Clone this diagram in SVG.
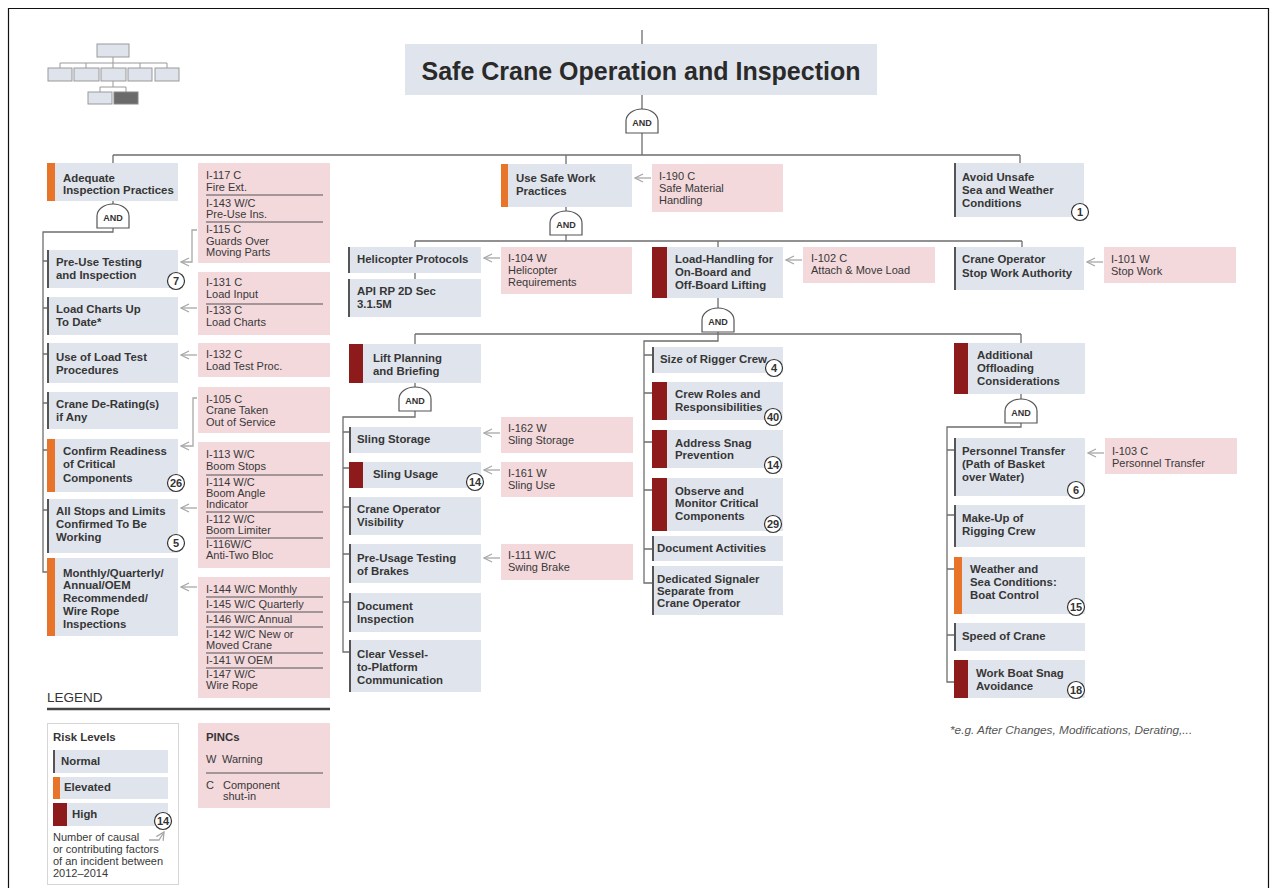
<svg xmlns="http://www.w3.org/2000/svg" width="1277" height="888" viewBox="0 0 1277 888">
<style>
  .n{fill:#e0e5ed}
  .p{fill:#f3d8dc}
  .or{fill:#e8742a}
  .hi{fill:#8e1b1b}
  .lb{stroke:#555;stroke-width:2}
  .t{font-family:"Liberation Sans",Arial,sans-serif;font-size:11.4px;font-weight:bold;fill:#363636}
  .pt{font-family:"Liberation Sans",Arial,sans-serif;font-size:11px;fill:#383838}
  .sep{stroke:#555;stroke-width:1}
  .c{fill:none;stroke:#6e6e6e;stroke-width:1.3}
  .a{fill:none;stroke:#a8a8a8;stroke-width:1.3}
  .bd circle{fill:#fff;stroke:#333;stroke-width:1.2}
  .bd text{font-family:"Liberation Sans",Arial,sans-serif;font-size:11px;font-weight:bold;fill:#333;text-anchor:middle}
  .ic{fill:#dfe4ec;stroke:#999;stroke-width:1}
</style>
<defs>
  <marker id="arr" viewBox="0 0 10 10" refX="9" refY="5" markerWidth="10" markerHeight="10" markerUnits="userSpaceOnUse" orient="auto">
    <path d="M1,1 L9,5 L1,9" fill="none" stroke="#a8a8a8" stroke-width="1.3"/>
  </marker>
  <g id="gate">
    <path d="M-16,12 V0 A16,12 0 0 1 16,0 V12 Z" fill="#fff" stroke="#555" stroke-width="1.2"/>
    <text y="5" text-anchor="middle" font-family="'Liberation Sans',Arial,sans-serif" font-size="9" font-weight="bold" fill="#333">AND</text>
  </g>
</defs>

<rect width="1277" height="888" fill="#fff"/>
<path d="M8.5,888 V8.5 H1268.5 V888" fill="none" stroke="#111" stroke-width="1.2"/>

<!-- overview icon -->
<g id="overview-icon">
  <path d="M113,57 V63 M60,63 H167 M60,63 V68 M86,63 V68 M113,63 V68 M140,63 V68 M167,63 V68 M113,81 V87 M100,87 H126 M100,87 V92 M126,87 V92" fill="none" stroke="#999" stroke-width="1"/>
  <rect class="ic" x="97" y="44" width="32" height="13"/>
  <rect class="ic" x="48" y="68" width="24" height="13"/>
  <rect class="ic" x="74" y="68" width="25" height="13"/>
  <rect class="ic" x="101" y="68" width="25" height="13"/>
  <rect class="ic" x="128" y="68" width="24" height="13"/>
  <rect class="ic" x="155" y="68" width="24" height="13"/>
  <rect class="ic" x="88" y="92" width="24" height="12"/>
  <rect x="114" y="92" width="24" height="12" fill="#6b6b6b" stroke="#888" stroke-width="1"/>
</g>

<!-- connectors -->
<g id="connectors">
  <path class="c" d="M642,30 V44 M642,95 V155 M113,155 H1020 M113,155 V163 M566,155 V164 M1020,155 V163"/>
  <!-- left branch -->
  <path class="c" d="M113,201 V232 H43 V572 H47 M43,261 H47 M43,308 H47 M43,354 H47 M43,403 H47 M43,450 H47 M43,510 H47"/>
  <!-- safe work practices branch -->
  <path class="c" d="M566,207 V241 M415,241 H1022 M415,241 V247 M718,241 V247 M1022,241 V247 M415,273 V279"/>
  <path class="c" d="M718,298 V341 H644 V583 H652 M644,355 H652 M644,393 H652 M644,442 H652 M644,490 H652 M644,549 H652"/>
  <path class="c" d="M415,334 H1021 M415,334 V344 M1021,334 V343"/>
  <path class="c" d="M415,383 V417 H343 V652 H349 M343,432 H349 M343,468 H349 M343,507 H349 M343,554 H349 M343,602 H349"/>
  <path class="c" d="M1021,394 V427 H947 V682 H954 M947,450 H954 M947,515 H954 M947,569 H954 M947,635 H954"/>
  <!-- PINC arrows -->
  <path class="a" marker-end="url(#arr)" d="M197,230 H192 V262 H181"/>
  <path class="a" marker-end="url(#arr)" d="M197,308 H181"/>
  <path class="a" marker-end="url(#arr)" d="M197,355 H181"/>
  <path class="a" marker-end="url(#arr)" d="M197,398 H193 V446 H181"/>
  <path class="a" marker-end="url(#arr)" d="M197,508 H181"/>
  <path class="a" marker-end="url(#arr)" d="M197,587 H181"/>
  <path class="a" marker-end="url(#arr)" d="M651,178 H635"/>
  <path class="a" marker-end="url(#arr)" d="M500,258 H484"/>
  <path class="a" marker-end="url(#arr)" d="M802,260 H786"/>
  <path class="a" marker-end="url(#arr)" d="M1103,262 H1087"/>
  <path class="a" marker-end="url(#arr)" d="M500,433 H484"/>
  <path class="a" marker-end="url(#arr)" d="M500,470 H484"/>
  <path class="a" marker-end="url(#arr)" d="M500,558 H484"/>
  <path class="a" marker-end="url(#arr)" d="M1104,453 H1088"/>
</g>

<!-- AND gates -->
<g id="gates">
  <use href="#gate" x="642" y="121"/>
  <use href="#gate" x="113" y="216"/>
  <use href="#gate" x="566" y="223"/>
  <use href="#gate" x="718" y="320"/>
  <use href="#gate" x="415" y="399"/>
  <use href="#gate" x="1021" y="411"/>
</g>

<!-- root -->
<g id="root">
  <rect class="n" x="405" y="44" width="472" height="51"/>
  <text x="641" y="80" text-anchor="middle" font-family="'Liberation Sans',Arial,sans-serif" font-size="25" font-weight="bold" fill="#2a2a2a">Safe Crane Operation and Inspection</text>
</g>

<!-- left column -->
<g id="adequate-inspection">
  <rect class="n" x="47" y="163" width="131" height="38"/><rect class="or" x="47" y="163" width="8" height="38"/>
  <text class="t"><tspan x="63" y="182">Adequate</tspan><tspan x="63" y="194">Inspection Practices</tspan></text>
</g>
<g id="pre-use-testing">
  <rect class="n" x="47" y="250" width="131" height="38"/><line class="lb" x1="48" y1="250" x2="48" y2="288"/>
  <text class="t"><tspan x="56" y="266">Pre-Use Testing</tspan><tspan x="56" y="279">and Inspection</tspan></text>
  <g class="bd"><circle cx="176" cy="281" r="8.5"/><text x="176" y="285">7</text></g>
</g>
<g id="load-charts">
  <rect class="n" x="47" y="297" width="131" height="38"/><line class="lb" x1="48" y1="297" x2="48" y2="335"/>
  <text class="t"><tspan x="56" y="313">Load Charts Up</tspan><tspan x="56" y="326">To Date*</tspan></text>
</g>
<g id="load-test">
  <rect class="n" x="47" y="343" width="131" height="40"/><line class="lb" x1="48" y1="343" x2="48" y2="383"/>
  <text class="t"><tspan x="56" y="361">Use of Load Test</tspan><tspan x="56" y="374">Procedures</tspan></text>
</g>
<g id="de-rating">
  <rect class="n" x="47" y="392" width="131" height="37"/><line class="lb" x1="48" y1="392" x2="48" y2="429"/>
  <text class="t"><tspan x="56" y="408">Crane De-Rating(s)</tspan><tspan x="56" y="421">if Any</tspan></text>
</g>
<g id="confirm-readiness">
  <rect class="n" x="47" y="439" width="131" height="53"/><rect class="or" x="47" y="439" width="8" height="53"/>
  <text class="t"><tspan x="63" y="455">Confirm Readiness</tspan><tspan x="63" y="468">of Critical</tspan><tspan x="63" y="482">Components</tspan></text>
  <g class="bd"><circle cx="176" cy="483" r="8.5"/><text x="176" y="487">26</text></g>
</g>
<g id="stops-limits">
  <rect class="n" x="47" y="499" width="131" height="54"/><line class="lb" x1="48" y1="499" x2="48" y2="553"/>
  <text class="t"><tspan x="56" y="515">All Stops and Limits</tspan><tspan x="56" y="528">Confirmed To Be</tspan><tspan x="56" y="541">Working</tspan></text>
  <g class="bd"><circle cx="176" cy="543" r="8.5"/><text x="176" y="547">5</text></g>
</g>
<g id="periodic-inspections">
  <rect class="n" x="47" y="558" width="131" height="78"/><rect class="or" x="47" y="558" width="8" height="78"/>
  <text class="t"><tspan x="63" y="577">Monthly/Quarterly/</tspan><tspan x="63" y="589">Annual/OEM</tspan><tspan x="63" y="602">Recommended/</tspan><tspan x="63" y="615">Wire Rope</tspan><tspan x="63" y="628">Inspections</tspan></text>
</g>

<!-- left PINCs -->
<g id="pinc-117-143-115">
  <rect class="p" x="198" y="163" width="132" height="100"/>
  <line class="sep" x1="206" y1="195" x2="323" y2="195"/><line class="sep" x1="206" y1="222" x2="323" y2="222"/>
  <text class="pt"><tspan x="206" y="179">I-117 C</tspan><tspan x="206" y="191">Fire Ext.</tspan><tspan x="206" y="207">I-143 W/C</tspan><tspan x="206" y="218">Pre-Use Ins.</tspan><tspan x="206" y="233">I-115 C</tspan><tspan x="206" y="245">Guards Over</tspan><tspan x="206" y="256">Moving Parts</tspan></text>
</g>
<g id="pinc-131-133">
  <rect class="p" x="198" y="272" width="132" height="63"/>
  <line class="sep" x1="206" y1="304" x2="323" y2="304"/>
  <text class="pt"><tspan x="206" y="286">I-131 C</tspan><tspan x="206" y="298">Load Input</tspan><tspan x="206" y="314">I-133 C</tspan><tspan x="206" y="326">Load Charts</tspan></text>
</g>
<g id="pinc-132">
  <rect class="p" x="198" y="343" width="132" height="34"/>
  <text class="pt"><tspan x="206" y="358">I-132 C</tspan><tspan x="206" y="370">Load Test Proc.</tspan></text>
</g>
<g id="pinc-105">
  <rect class="p" x="198" y="387" width="132" height="46"/>
  <text class="pt"><tspan x="206" y="403">I-105 C</tspan><tspan x="206" y="414">Crane Taken</tspan><tspan x="206" y="426">Out of Service</tspan></text>
</g>
<g id="pinc-113-114-112-116">
  <rect class="p" x="198" y="442" width="132" height="126"/>
  <line class="sep" x1="206" y1="475" x2="323" y2="475"/><line class="sep" x1="206" y1="512" x2="323" y2="512"/><line class="sep" x1="206" y1="538" x2="323" y2="538"/>
  <text class="pt"><tspan x="206" y="458">I-113 W/C</tspan><tspan x="206" y="470">Boom Stops</tspan><tspan x="206" y="486">I-114 W/C</tspan><tspan x="206" y="497">Boom Angle</tspan><tspan x="206" y="508">Indicator</tspan><tspan x="206" y="523">I-112 W/C</tspan><tspan x="206" y="534">Boom Limiter</tspan><tspan x="206" y="548">I-116W/C</tspan><tspan x="206" y="559">Anti-Two Bloc</tspan></text>
</g>
<g id="pinc-144-147">
  <rect class="p" x="198" y="577" width="132" height="121"/>
  <line class="sep" x1="206" y1="597" x2="323" y2="597"/><line class="sep" x1="206" y1="612" x2="323" y2="612"/><line class="sep" x1="206" y1="627" x2="323" y2="627"/><line class="sep" x1="206" y1="653" x2="323" y2="653"/><line class="sep" x1="206" y1="668" x2="323" y2="668"/>
  <text class="pt"><tspan x="206" y="593">I-144 W/C Monthly</tspan><tspan x="206" y="608">I-145 W/C Quarterly</tspan><tspan x="206" y="623">I-146 W/C Annual</tspan><tspan x="206" y="638">I-142 W/C New or</tspan><tspan x="206" y="649">Moved Crane</tspan><tspan x="206" y="664">I-141 W OEM</tspan><tspan x="206" y="678">I-147 W/C</tspan><tspan x="206" y="689">Wire Rope</tspan></text>
</g>

<!-- centre column -->
<g id="safe-work-practices">
  <rect class="n" x="501" y="164" width="131" height="43"/><rect class="or" x="501" y="164" width="7" height="43"/>
  <text class="t"><tspan x="516" y="182">Use Safe Work</tspan><tspan x="516" y="195">Practices</tspan></text>
</g>
<g id="pinc-190">
  <rect class="p" x="652" y="164" width="131" height="48"/>
  <text class="pt"><tspan x="659" y="180">I-190 C</tspan><tspan x="659" y="192">Safe Material</tspan><tspan x="659" y="204">Handling</tspan></text>
</g>
<g id="helicopter-protocols">
  <rect class="n" x="348" y="247" width="133" height="26"/><line class="lb" x1="349" y1="247" x2="349" y2="273"/>
  <text class="t" x="357" y="263">Helicopter Protocols</text>
</g>
<g id="api-rp-2d">
  <rect class="n" x="348" y="279" width="133" height="38"/><line class="lb" x1="349" y1="279" x2="349" y2="317"/>
  <text class="t"><tspan x="357" y="295">API RP 2D Sec</tspan><tspan x="357" y="308">3.1.5M</tspan></text>
</g>
<g id="pinc-104">
  <rect class="p" x="501" y="247" width="131" height="47"/>
  <text class="pt"><tspan x="508" y="262">I-104 W</tspan><tspan x="508" y="274">Helicopter</tspan><tspan x="508" y="286">Requirements</tspan></text>
</g>
<g id="load-handling">
  <rect class="n" x="652" y="247" width="131" height="51"/><rect class="hi" x="652" y="247" width="15" height="51"/>
  <text class="t"><tspan x="675" y="263">Load-Handling for</tspan><tspan x="675" y="276">On-Board and</tspan><tspan x="675" y="289">Off-Board Lifting</tspan></text>
</g>
<g id="pinc-102">
  <rect class="p" x="803" y="247" width="132" height="36"/>
  <text class="pt"><tspan x="811" y="262">I-102 C</tspan><tspan x="811" y="274">Attach &amp; Move Load</tspan></text>
</g>

<!-- lift planning -->
<g id="lift-planning">
  <rect class="n" x="349" y="344" width="132" height="39"/><rect class="hi" x="349" y="344" width="14" height="39"/>
  <text class="t"><tspan x="373" y="362">Lift Planning</tspan><tspan x="373" y="375">and Briefing</tspan></text>
</g>
<g id="sling-storage">
  <rect class="n" x="349" y="427" width="132" height="26"/><line class="lb" x1="350" y1="427" x2="350" y2="453"/>
  <text class="t" x="357" y="443">Sling Storage</text>
</g>
<g id="sling-usage">
  <rect class="n" x="349" y="462" width="132" height="26"/><rect class="hi" x="349" y="462" width="14" height="26"/>
  <text class="t" x="373" y="478">Sling Usage</text>
  <g class="bd"><circle cx="475" cy="482" r="8.5"/><text x="475" y="486">14</text></g>
</g>
<g id="operator-visibility">
  <rect class="n" x="349" y="497" width="132" height="38"/><line class="lb" x1="350" y1="497" x2="350" y2="535"/>
  <text class="t"><tspan x="357" y="513">Crane Operator</tspan><tspan x="357" y="526">Visibility</tspan></text>
</g>
<g id="brake-testing">
  <rect class="n" x="349" y="544" width="132" height="39"/><line class="lb" x1="350" y1="544" x2="350" y2="583"/>
  <text class="t"><tspan x="357" y="562">Pre-Usage Testing</tspan><tspan x="357" y="575">of Brakes</tspan></text>
</g>
<g id="document-inspection">
  <rect class="n" x="349" y="593" width="132" height="39"/><line class="lb" x1="350" y1="593" x2="350" y2="632"/>
  <text class="t"><tspan x="357" y="610">Document</tspan><tspan x="357" y="623">Inspection</tspan></text>
</g>
<g id="vessel-platform-comm">
  <rect class="n" x="349" y="640" width="132" height="52"/><line class="lb" x1="350" y1="640" x2="350" y2="692"/>
  <text class="t"><tspan x="357" y="658">Clear Vessel-</tspan><tspan x="357" y="671">to-Platform</tspan><tspan x="357" y="684">Communication</tspan></text>
</g>
<g id="pinc-162">
  <rect class="p" x="501" y="417" width="132" height="36"/>
  <text class="pt"><tspan x="508" y="432">I-162 W</tspan><tspan x="508" y="444">Sling Storage</tspan></text>
</g>
<g id="pinc-161">
  <rect class="p" x="501" y="462" width="132" height="35"/>
  <text class="pt"><tspan x="508" y="477">I-161 W</tspan><tspan x="508" y="489">Sling Use</tspan></text>
</g>
<g id="pinc-111">
  <rect class="p" x="501" y="544" width="132" height="36"/>
  <text class="pt"><tspan x="508" y="559">I-111 W/C</tspan><tspan x="508" y="571">Swing Brake</tspan></text>
</g>

<!-- rigging crew column -->
<g id="rigger-crew-size">
  <rect class="n" x="652" y="347" width="131" height="26"/><line class="lb" x1="653" y1="347" x2="653" y2="373"/>
  <text class="t" x="660" y="363">Size of Rigger Crew</text>
  <g class="bd"><circle cx="774" cy="368" r="8.5"/><text x="774" y="372">4</text></g>
</g>
<g id="crew-roles">
  <rect class="n" x="652" y="382" width="131" height="38"/><rect class="hi" x="652" y="382" width="15" height="38"/>
  <text class="t"><tspan x="675" y="398">Crew Roles and</tspan><tspan x="675" y="411">Responsibilities</tspan></text>
  <g class="bd"><circle cx="773" cy="417" r="8.5"/><text x="773" y="421">40</text></g>
</g>
<g id="snag-prevention">
  <rect class="n" x="652" y="430" width="131" height="38"/><rect class="hi" x="652" y="430" width="15" height="38"/>
  <text class="t"><tspan x="675" y="447">Address Snag</tspan><tspan x="675" y="459">Prevention</tspan></text>
  <g class="bd"><circle cx="773" cy="465" r="8.5"/><text x="773" y="469">14</text></g>
</g>
<g id="monitor-components">
  <rect class="n" x="652" y="478" width="131" height="53"/><rect class="hi" x="652" y="478" width="15" height="53"/>
  <text class="t"><tspan x="675" y="495">Observe and</tspan><tspan x="675" y="507">Monitor Critical</tspan><tspan x="675" y="520">Components</tspan></text>
  <g class="bd"><circle cx="773" cy="524" r="8.5"/><text x="773" y="528">29</text></g>
</g>
<g id="document-activities">
  <rect class="n" x="652" y="536" width="131" height="25"/><line class="lb" x1="653" y1="536" x2="653" y2="561"/>
  <text class="t" x="657" y="552">Document Activities</text>
</g>
<g id="dedicated-signaler">
  <rect class="n" x="652" y="566" width="131" height="49"/><line class="lb" x1="653" y1="566" x2="653" y2="615"/>
  <text class="t"><tspan x="657" y="583">Dedicated Signaler</tspan><tspan x="657" y="595">Separate from</tspan><tspan x="657" y="607">Crane Operator</tspan></text>
</g>

<!-- right column -->
<g id="avoid-unsafe-conditions">
  <rect class="n" x="954" y="163" width="130" height="54"/><line class="lb" x1="955" y1="163" x2="955" y2="217"/>
  <text class="t"><tspan x="962" y="181">Avoid Unsafe</tspan><tspan x="962" y="194">Sea and Weather</tspan><tspan x="962" y="207">Conditions</tspan></text>
  <g class="bd"><circle cx="1080" cy="212" r="8.5"/><text x="1080" y="216">1</text></g>
</g>
<g id="stop-work-authority">
  <rect class="n" x="954" y="247" width="130" height="43"/><line class="lb" x1="955" y1="247" x2="955" y2="290"/>
  <text class="t"><tspan x="962" y="263">Crane Operator</tspan><tspan x="962" y="277">Stop Work Authority</tspan></text>
</g>
<g id="pinc-101">
  <rect class="p" x="1104" y="247" width="132" height="36"/>
  <text class="pt"><tspan x="1111" y="263">I-101 W</tspan><tspan x="1111" y="275">Stop Work</tspan></text>
</g>
<g id="offloading-considerations">
  <rect class="n" x="954" y="343" width="131" height="51"/><rect class="hi" x="954" y="343" width="14" height="51"/>
  <text class="t"><tspan x="977" y="359">Additional</tspan><tspan x="977" y="372">Offloading</tspan><tspan x="977" y="385">Considerations</tspan></text>
</g>
<g id="personnel-transfer">
  <rect class="n" x="954" y="438" width="131" height="58"/><line class="lb" x1="955" y1="438" x2="955" y2="496"/>
  <text class="t"><tspan x="962" y="455">Personnel Transfer</tspan><tspan x="962" y="468">(Path of Basket</tspan><tspan x="962" y="481">over Water)</tspan></text>
  <g class="bd"><circle cx="1076" cy="490" r="8.5"/><text x="1076" y="494">6</text></g>
</g>
<g id="pinc-103">
  <rect class="p" x="1105" y="438" width="132" height="36"/>
  <text class="pt"><tspan x="1112" y="455">I-103 C</tspan><tspan x="1112" y="467">Personnel Transfer</tspan></text>
</g>
<g id="rigging-crew-makeup">
  <rect class="n" x="954" y="505" width="131" height="42"/><line class="lb" x1="955" y1="505" x2="955" y2="547"/>
  <text class="t"><tspan x="962" y="522">Make-Up of</tspan><tspan x="962" y="535">Rigging Crew</tspan></text>
</g>
<g id="boat-control">
  <rect class="n" x="954" y="557" width="131" height="57"/><rect class="or" x="954" y="557" width="8" height="57"/>
  <text class="t"><tspan x="970" y="573">Weather and</tspan><tspan x="970" y="586">Sea Conditions:</tspan><tspan x="970" y="599">Boat Control</tspan></text>
  <g class="bd"><circle cx="1076" cy="607" r="8.5"/><text x="1076" y="611">15</text></g>
</g>
<g id="crane-speed">
  <rect class="n" x="954" y="623" width="131" height="28"/><line class="lb" x1="955" y1="623" x2="955" y2="651"/>
  <text class="t" x="962" y="640">Speed of Crane</text>
</g>
<g id="boat-snag-avoidance">
  <rect class="n" x="954" y="660" width="131" height="38"/><rect class="hi" x="954" y="660" width="14" height="38"/>
  <text class="t"><tspan x="976" y="677">Work Boat Snag</tspan><tspan x="976" y="690">Avoidance</tspan></text>
  <g class="bd"><circle cx="1076" cy="690" r="8.5"/><text x="1076" y="694">18</text></g>
</g>

<text id="footnote" x="950" y="734" font-family="'Liberation Sans',Arial,sans-serif" font-size="11.8" font-style="italic" fill="#555">*e.g. After Changes, Modifications, Derating,...</text>

<!-- legend -->
<g id="legend">
  <text x="47" y="702" font-family="'Liberation Sans',Arial,sans-serif" font-size="13.5" fill="#333">LEGEND</text>
  <line x1="47" y1="709" x2="330" y2="709" stroke="#444" stroke-width="2.5"/>
  <rect x="47.5" y="723.5" width="131" height="161" fill="#fff" stroke="#d6d6d6" stroke-width="1"/>
  <text class="t" x="53" y="741" font-size="12">Risk Levels</text>
  <rect class="n" x="53" y="750" width="115" height="23"/><line class="lb" x1="54" y1="750" x2="54" y2="773"/>
  <text class="t" x="61" y="765" font-size="10.5">Normal</text>
  <rect class="n" x="53" y="777" width="115" height="22"/><rect class="or" x="53" y="777" width="7" height="22"/>
  <text class="t" x="64" y="791" font-size="10.5">Elevated</text>
  <rect class="n" x="53" y="803" width="115" height="23"/><rect class="hi" x="53" y="803" width="14" height="23"/>
  <text class="t" x="72" y="818" font-size="10.5">High</text>
  <g class="bd"><circle cx="163" cy="821" r="8.5"/><text x="163" y="825">14</text></g>
  <path class="a" marker-end="url(#arr)" d="M149,840 H159 L164,832"/>
  <text class="pt" font-size="10.5"><tspan x="53" y="841">Number of causal</tspan><tspan x="53" y="853">or contributing factors</tspan><tspan x="53" y="865">of an incident between</tspan><tspan x="53" y="877">2012–2014</tspan></text>
  <rect class="p" x="198" y="723" width="132" height="85"/>
  <text class="t" x="206" y="741" font-size="12">PINCs</text>
  <text class="pt"><tspan x="206" y="763">W</tspan><tspan x="222" y="763">Warning</tspan></text>
  <line class="sep" x1="206" y1="773" x2="323" y2="773"/>
  <text class="pt"><tspan x="206" y="789">C</tspan><tspan x="223" y="789">Component</tspan><tspan x="223" y="800">shut-in</tspan></text>
</g>
</svg>
